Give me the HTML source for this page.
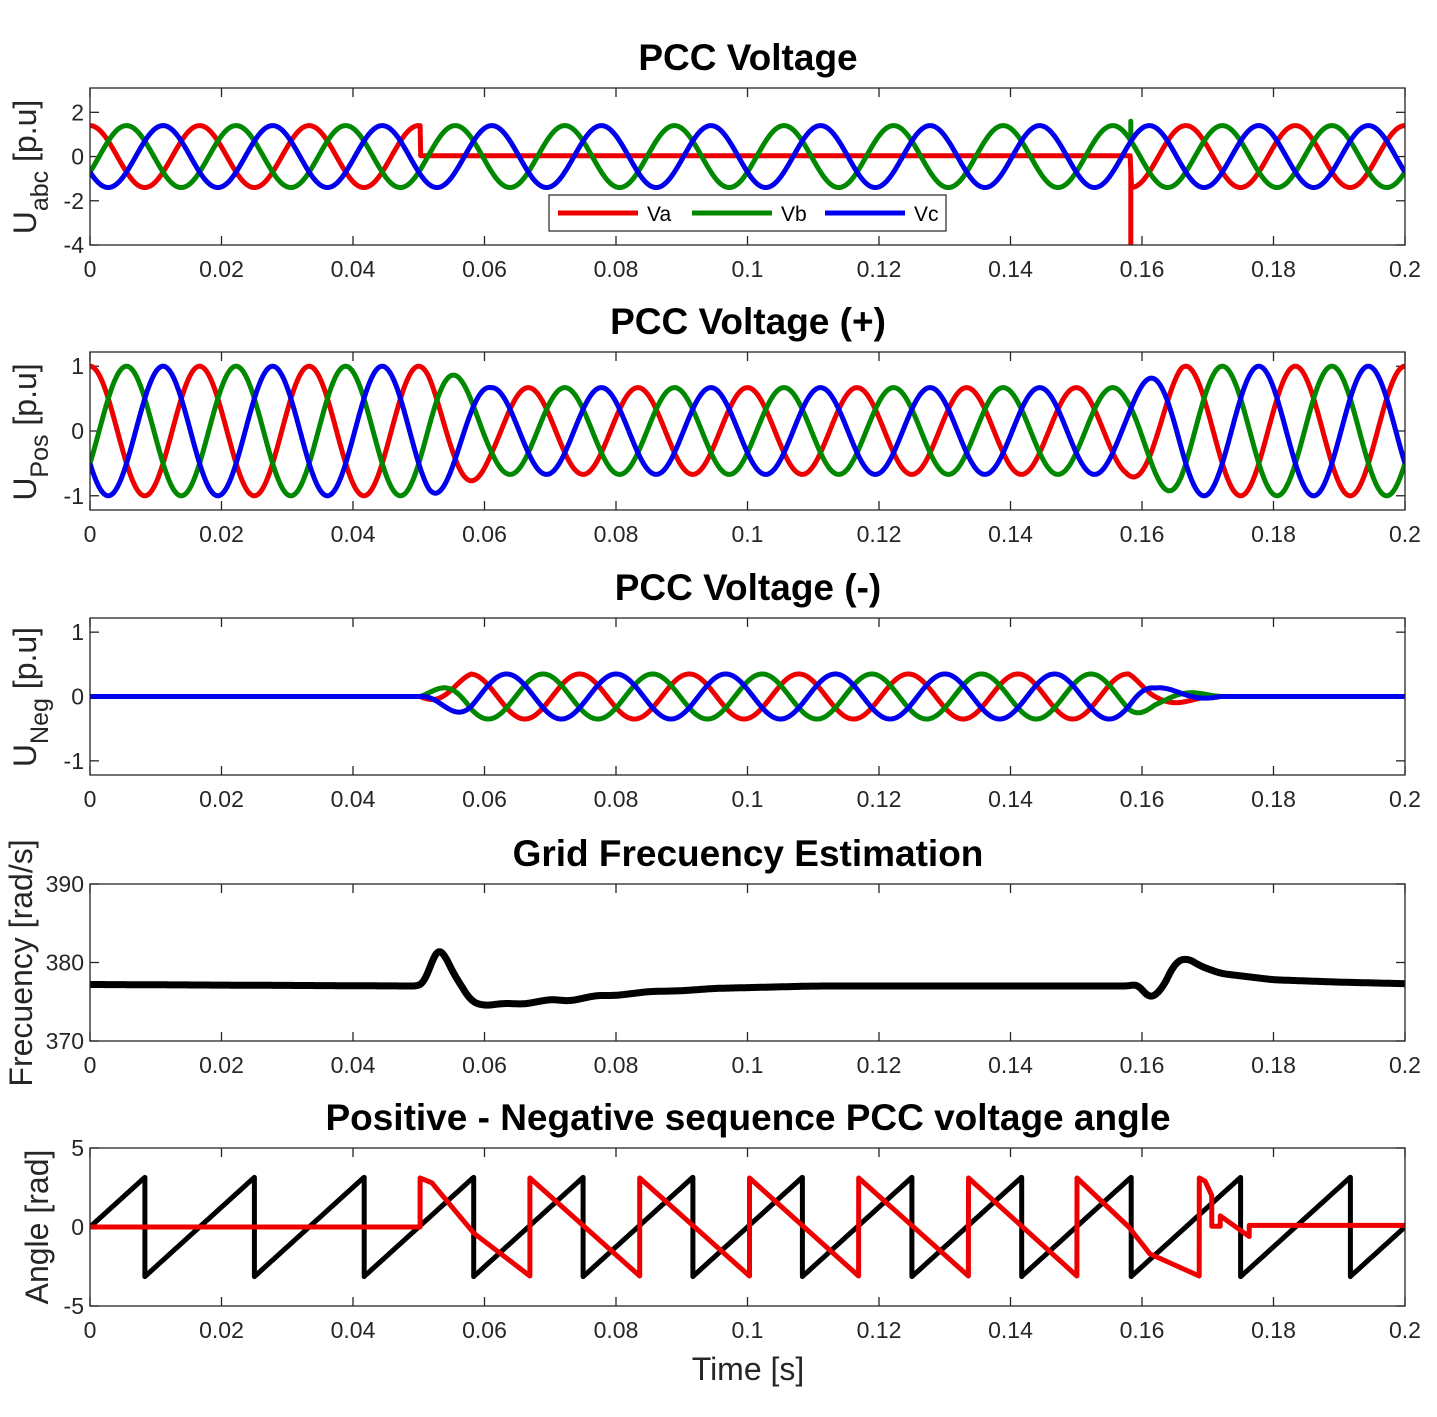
<!DOCTYPE html>
<html><head><meta charset="utf-8"><style>
html,body{margin:0;padding:0;background:#fff;}
svg{display:block;font-family:"Liberation Sans",Arial,sans-serif;}
</style></head><body>
<svg id="fig" width="1437" height="1417" viewBox="0 0 1437 1417"></svg>
<script>
// ---------- data ----------
const W0 = 377; // rad/s grid angular frequency
const xTicks = [0,0.02,0.04,0.06,0.08,0.1,0.12,0.14,0.16,0.18,0.2];
const xTickLabels = ["0","0.02","0.04","0.06","0.08","0.1","0.12","0.14","0.16","0.18","0.2"];
// plot1 envelopes (time, amplitude)
const p1EnvT_A = [0,0.0502,0.0503,0.1582,0.1584,0.2];
const p1EnvA_A = [1.4,1.4,0.0,0.0,1.4,1.4];
const p1Offset_A = [0,0,0.04,0.04,0,0];
const p1EnvT_BC = [0,0.2];
const p1EnvA_BC = [1.4,1.4];
const p1SpikeT = [0.1583,0.1583];
const p1SpikeA = [-4.1,1.6]; // red, green
// plot2 positive sequence envelope
const p2EnvT = [0,0.0515,0.061,0.1575,0.166,0.2];
const p2EnvA = [1.0,1.0,0.67,0.67,1.0,1.0];
// plot3 negative sequence envelope
const p3EnvT = [0,0.0502,0.058,0.158,0.162,0.172,0.2];
const p3EnvA = [0,0,0.35,0.35,0.15,0,0];
const p3Peak = 0.0578;
// plot4 frequency
const freqT = [0,0.05,0.051,0.0525,0.0535,0.055,0.058,0.06,0.063,0.066,0.07,0.073,0.077,0.08,0.085,0.09,0.095,0.1,0.11,0.158,0.1595,0.161,0.163,0.165,0.1668,0.169,0.172,0.175,0.18,0.19,0.2];
const freqV = [377.2,377,377.5,381.5,381.8,379,375,374.5,374.8,374.7,375.3,375.1,375.8,375.8,376.3,376.4,376.7,376.8,377,377,377.3,375.3,376.5,380,380.6,379.5,378.6,378.3,377.8,377.5,377.3];
// plot5 negative-sequence angle (red)
const angT = [0,0.0502,0.05021,0.052,0.054,0.0584,0.0669,0.06691,0.0836,0.08361,0.1003,0.10031,0.1169,0.11691,0.1336,0.13361,0.1501,0.15011,0.158,0.1612,0.1687,0.16871,0.1696,0.1706,0.17061,0.1719,0.17191,0.1763,0.17631,0.2];
const angV = [0,0,3.1,2.8,1.8,-0.4,-3.1,3.1,-3.1,3.1,-3.1,3.1,-3.1,3.1,-3.1,3.1,-3.1,3.1,0,-1.7,-3.1,3.1,2.9,2.0,0.05,0.05,0.7,-0.6,0.1,0.1];

// ---------- helpers ----------
const NS = "http://www.w3.org/2000/svg";
const svg = document.getElementById("fig");
const X0 = 90, X1 = 1405;
function xs(t){ return X0 + (t/0.2)*(X1-X0); }
function interp(T,V,t){
  if(t<=T[0]) return V[0];
  for(let i=1;i<T.length;i++){ if(t<=T[i]){ const f=(t-T[i-1])/(T[i]-T[i-1]||1); return V[i-1]+f*(V[i]-V[i-1]); } }
  return V[V.length-1];
}
function el(tag, attrs, parent){ const e=document.createElementNS(NS,tag); for(const k in attrs) e.setAttribute(k,attrs[k]); (parent||svg).appendChild(e); return e; }
const tSamples = []; for(let i=0;i<=4000;i++) tSamples.push(i*0.2/4000);

const axesDef = [
  {top:88,bot:245,ymin:-4,ymax:3.1,yt:[-4,-2,0,2],ytl:["-4","-2","0","2"],title:"PCC Voltage",name:"pcc-voltage"},
  {top:352,bot:510,ymin:-1.22,ymax:1.22,yt:[-1,0,1],ytl:["-1","0","1"],title:"PCC Voltage (+)",name:"pcc-voltage-pos"},
  {top:618,bot:775,ymin:-1.22,ymax:1.22,yt:[-1,0,1],ytl:["-1","0","1"],title:"PCC Voltage (-)",name:"pcc-voltage-neg"},
  {top:884,bot:1041,ymin:370,ymax:390,yt:[370,380,390],ytl:["370","380","390"],title:"Grid Frecuency Estimation",name:"grid-frequency"},
  {top:1148,bot:1306,ymin:-5,ymax:5,yt:[-5,0,5],ytl:["-5","0","5"],title:"Positive - Negative sequence PCC voltage angle",name:"angle"}
];
axesDef.forEach((a,i)=>{ a.ys = v => a.bot - (v-a.ymin)/(a.ymax-a.ymin)*(a.bot-a.top); });

function drawAxes(a,idx){
  const g = el("g",{});
  
  
  const cp = el("clipPath",{id:"clip"+idx},g);
  el("rect",{x:X0,y:a.top,width:X1-X0,height:a.bot-a.top},cp);
  const title = el("text",{x:748,y:a.top-18,"text-anchor":"middle","font-size":"37","font-weight":"bold",fill:"#000"},g);
  title.textContent = a.title;
  
  
  xTicks.forEach((t,k)=>{
    const x=xs(t);
    el("line",{x1:x,y1:a.bot,x2:x,y2:a.bot-9,stroke:"#262626","stroke-width":1.3},g);
    el("line",{x1:x,y1:a.top,x2:x,y2:a.top+9,stroke:"#262626","stroke-width":1.3},g);
    const tl = el("text",{x:x,y:a.bot+32,"text-anchor":"middle","font-size":"23",fill:"#262626"},g);
    tl.textContent = xTickLabels[k];
    
    
  });
  a.yt.forEach((v,k)=>{
    const y=a.ys(v);
    el("line",{x1:X0,y1:y,x2:X0+9,y2:y,stroke:"#262626","stroke-width":1.3},g);
    el("line",{x1:X1,y1:y,x2:X1-9,y2:y,stroke:"#262626","stroke-width":1.3},g);
    const tl = el("text",{x:X0-6,y:y+8,"text-anchor":"end","font-size":"23",fill:"#262626"},g);
    tl.textContent = a.ytl[k];
    
    
  });
  return g;
}
function drawBox(a){
  const r = el("rect",{x:X0,y:a.top,width:X1-X0,height:a.bot-a.top,fill:"none",stroke:"#262626","stroke-width":1.3});
  
  
}
function line(pts,color,w,idx,name){
  const p = el("polyline",{points:pts.map(q=>q[0].toFixed(1)+","+q[1].toFixed(1)).join(" "),fill:"none",stroke:color,"stroke-width":w,"stroke-linejoin":"round","clip-path":"url(#clip"+idx+")"});
  
  
  return p;
}
const RED="#ee0000", GRN="#008800", BLU="#0000ee";
const PH=[0,-2*Math.PI/3,2*Math.PI/3];
const LW=5;

axesDef.forEach((a,i)=>drawAxes(a,i));

// plot 1
(function(){
  const a=axesDef[0];
  const names=["va-line","vb-line","vc-line"], cols=[RED,GRN,BLU];
  for(let k=0;k<3;k++){
    const pts=[];
    tSamples.forEach(t=>{
      let v;
      if(k===0) v = interp(p1EnvT_A,p1EnvA_A,t)*Math.cos(W0*t) + interp(p1EnvT_A,p1Offset_A,t);
      else v = interp(p1EnvT_BC,p1EnvA_BC,t)*Math.cos(W0*t+PH[k]);
      pts.push([xs(t),a.ys(v)]);
      if(k===0 && Math.abs(t-p1SpikeT[0])<0.00003){ pts.push([xs(t),a.ys(p1SpikeA[0])]); pts.push([xs(t),a.ys(v)]); }
      if(k===1 && Math.abs(t-p1SpikeT[1])<0.00003){ pts.push([xs(t),a.ys(p1SpikeA[1])]); pts.push([xs(t),a.ys(v)]); }
    });
    line(pts,cols[k],LW,0,names[k]);
  }
  drawBox(a);
  const lg = el("g",{});
  
  
  el("rect",{x:549,y:195,width:397,height:36,fill:"#fff",stroke:"#262626","stroke-width":1.2},lg);
  const ent=[["Va",RED,558],["Vb",GRN,692],["Vc",BLU,825]];
  ent.forEach(e=>{
    el("line",{x1:e[2],y1:213,x2:e[2]+80,y2:213,stroke:e[1],"stroke-width":LW},lg);
    const tx=el("text",{x:e[2]+89,y:221,"font-size":"21",fill:"#000"},lg);
    tx.textContent=e[0];
    
    
  });
})();
// plot 2
(function(){
  const a=axesDef[1], cols=[RED,GRN,BLU], names=["va-pos-line","vb-pos-line","vc-pos-line"];
  for(let k=0;k<3;k++){
    const pts=tSamples.map(t=>[xs(t),a.ys(interp(p2EnvT,p2EnvA,t)*Math.cos(W0*t+PH[k]))]);
    line(pts,cols[k],LW,1,names[k]);
  }
  drawBox(a);
})();
// plot 3
(function(){
  const a=axesDef[2], cols=[RED,GRN,BLU], names=["va-neg-line","vb-neg-line","vc-neg-line"];
  [0,1,2].forEach(k=>{
    const pts=tSamples.map(t=>[xs(t),a.ys(interp(p3EnvT,p3EnvA,t)*Math.cos(-W0*(t-p3Peak)+PH[k]))]);
    line(pts,cols[k],LW,2,names[k]);
  });
  drawBox(a);
})();
// plot 4
(function(){
  const a=axesDef[3];
  const raw=tSamples.map(t=>interp(freqT,freqV,t));
  const N=20;
  const pts=tSamples.map((t,i)=>{
    let s=0,c=0;
    for(let j=Math.max(0,i-N);j<=Math.min(raw.length-1,i+N);j++){ s+=raw[j]; c++; }
    return [xs(t),a.ys(s/c)];
  });
  line(pts,"#000",7,3,"frequency-line");
  drawBox(a);
})();
// plot 5
(function(){
  const a=axesDef[4];
  const pts=[];
  tSamples.forEach((t,i)=>{
    let ph = W0*t/(2*Math.PI); let f=ph-Math.floor(ph+0.5);
    if(i>0){ const pp=W0*tSamples[i-1]/(2*Math.PI); if(Math.floor(pp+0.5)!==Math.floor(ph+0.5)){ pts.push([xs(t),a.ys(Math.PI)]); pts.push([xs(t),a.ys(-Math.PI)]); } }
    pts.push([xs(t),a.ys(f*2*Math.PI)]);
  });
  line(pts,"#000",LW,4,"pos-angle-line");
  const rp=angT.map((t,k)=>[xs(t),a.ys(angV[k])]);
  line(rp,RED,LW,4,"neg-angle-line");
  drawBox(a);
})();

// y labels
function ylab(x,y,html,name){
  const t=el("text",{x:0,y:0,"font-size":"32",fill:"#262626","text-anchor":"middle",transform:"translate("+x+","+y+") rotate(-90)"});
  t.innerHTML=html;
  
  
}
ylab(36,167,'U<tspan font-size="25" dy="12">abc</tspan><tspan dy="-12"> [p.u]</tspan>',"y-axis-title-uabc");
ylab(36,432,'U<tspan font-size="25" dy="12">Pos</tspan><tspan dy="-12"> [p.u]</tspan>',"y-axis-title-upos");
ylab(36,697,'U<tspan font-size="25" dy="12">Neg</tspan><tspan dy="-12"> [p.u]</tspan>',"y-axis-title-uneg");
ylab(32,963,'Frecuency [rad/s]',"y-axis-title-frequency");
ylab(48,1227,'Angle [rad]',"y-axis-title-angle");
const xl=el("text",{x:748,y:1380,"text-anchor":"middle","font-size":"32",fill:"#262626"});
xl.textContent="Time [s]";


</script>
</body></html>
